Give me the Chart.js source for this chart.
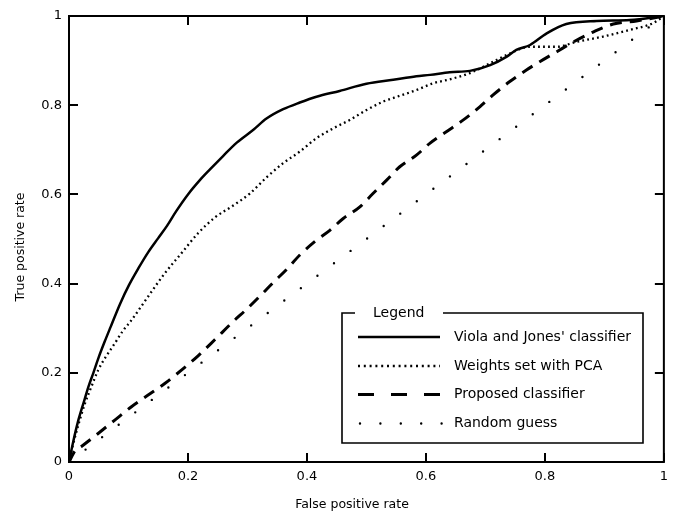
<!DOCTYPE html>
<html><head><meta charset="utf-8">
<script src="https://cdn.jsdelivr.net/npm/chart.js@4/dist/chart.umd.min.js"></script>
<style>html,body{margin:0;padding:0;background:#fff}canvas{display:block}</style>
</head><body>
<canvas id="c" width="675" height="512"></canvas>
<script>
// ---- data ----
const tickValues = [0, 0.2, 0.4, 0.6, 0.8, 1];
const xTitle = "False positive rate";
const yTitle = "True positive rate";
const legendTitle = "Legend";
const seriesNames = ["Viola and Jones' classifier", "Weights set with PCA", "Proposed classifier", "Random guess"];

const vjFpr = [0, 0.007, 0.015, 0.025, 0.033, 0.041, 0.05, 0.06, 0.07, 0.086, 0.101, 0.117, 0.133, 0.15, 0.165, 0.18, 0.2, 0.22, 0.237, 0.259, 0.282, 0.31, 0.332, 0.36, 0.388, 0.416, 0.455, 0.5, 0.545, 0.584, 0.607, 0.64, 0.674, 0.708, 0.736, 0.752, 0.775, 0.803, 0.836, 0.887, 0.943, 1];
const vjTpr  = [0, 0.045, 0.09, 0.135, 0.17, 0.2, 0.235, 0.27, 0.303, 0.355, 0.397, 0.435, 0.47, 0.502, 0.53, 0.562, 0.6, 0.632, 0.656, 0.686, 0.716, 0.745, 0.77, 0.791, 0.806, 0.819, 0.832, 0.848, 0.857, 0.865, 0.868, 0.874, 0.877, 0.89, 0.909, 0.924, 0.935, 0.961, 0.982, 0.989, 0.991, 1];

const pcaFpr = [0, 0.007, 0.015, 0.027, 0.038, 0.049, 0.062, 0.077, 0.09, 0.105, 0.133, 0.161, 0.189, 0.217, 0.245, 0.276, 0.304, 0.332, 0.36, 0.388, 0.416, 0.444, 0.472, 0.5, 0.528, 0.556, 0.584, 0.612, 0.64, 0.674, 0.708, 0.741, 0.775, 0.82, 0.853, 0.898, 0.943, 0.982, 1];
const pcaTpr = [0, 0.04, 0.08, 0.132, 0.17, 0.206, 0.236, 0.266, 0.293, 0.318, 0.371, 0.423, 0.468, 0.513, 0.548, 0.575, 0.602, 0.638, 0.67, 0.696, 0.726, 0.748, 0.767, 0.789, 0.808, 0.821, 0.834, 0.849, 0.858, 0.872, 0.894, 0.916, 0.931, 0.931, 0.942, 0.954, 0.969, 0.984, 1];

const propFpr = [0, 0.01, 0.022, 0.049, 0.077, 0.105, 0.133, 0.161, 0.189, 0.217, 0.245, 0.276, 0.299, 0.321, 0.343, 0.366, 0.388, 0.413, 0.439, 0.461, 0.489, 0.511, 0.534, 0.556, 0.584, 0.607, 0.635, 0.663, 0.691, 0.713, 0.741, 0.769, 0.792, 0.82, 0.848, 0.881, 0.915, 0.954, 1];
const propTpr = [0, 0.025, 0.036, 0.064, 0.094, 0.124, 0.15, 0.176, 0.206, 0.238, 0.274, 0.315, 0.343, 0.372, 0.402, 0.432, 0.464, 0.494, 0.52, 0.546, 0.572, 0.602, 0.632, 0.662, 0.688, 0.715, 0.741, 0.767, 0.797, 0.823, 0.853, 0.879, 0.898, 0.92, 0.942, 0.964, 0.982, 0.989, 1];

const randFpr = [0, 1];
const randTpr = [0, 1];

// ---- build ----
const pts = (xs, ys) => xs.map((v, i) => ({x: v, y: ys[i]}));
const FONT = '"DejaVu Sans", "Liberation Sans", sans-serif';

const styles = [
  {width: 2.5, dash: [], cap: 'butt', legendDash: []},
  {width: 2.3, dash: [1.8, 3.2], cap: 'butt', legendDash: [2, 3.8]},
  {width: 3, dash: [12, 8], cap: 'butt', legendDash: [16, 17]},
  {width: 2.4, dash: [0, 20.7], cap: 'round', legendDash: [0, 20.4]}
];
const seriesData = [pts(vjFpr, vjTpr), pts(pcaFpr, pcaTpr), pts(propFpr, propTpr), pts(randFpr, randTpr)];

const framePlugin = {
  id: 'frame',
  afterDraw(chart) {
    const {ctx, chartArea: {left, right, top, bottom}, scales: {x, y}} = chart;
    ctx.save();
    ctx.strokeStyle = '#000';
    ctx.lineWidth = 2;
    ctx.setLineDash([]);
    ctx.strokeRect(left, top, right - left, bottom - top);
    const L = 9;
    ctx.beginPath();
    tickValues.forEach(v => {
      const px = Math.round(x.getPixelForValue(v));
      ctx.moveTo(px, bottom); ctx.lineTo(px, bottom - L);
      ctx.moveTo(px, top); ctx.lineTo(px, top + L);
      const py = Math.round(y.getPixelForValue(v));
      ctx.moveTo(left, py); ctx.lineTo(left + L, py);
      ctx.moveTo(right, py); ctx.lineTo(right - L, py);
    });
    ctx.stroke();

    // axis titles
    ctx.fillStyle = '#000';
    ctx.font = '12.5px ' + FONT;
    ctx.textAlign = 'center';
    ctx.textBaseline = 'middle';
    ctx.fillText(xTitle, 352, 505);
    ctx.save();
    ctx.translate(21, 247);
    ctx.rotate(-Math.PI / 2);
    ctx.fillText(yTitle, 0, 0);
    ctx.restore();

    // legend box
    const bx0 = 342, bx1 = 643, by0 = 313, by1 = 443;
    ctx.fillStyle = '#fff';
    ctx.fillRect(bx0, by0, bx1 - bx0, by1 - by0);
    ctx.lineWidth = 1.6;
    ctx.beginPath();
    ctx.moveTo(355, by0); ctx.lineTo(bx0, by0); ctx.lineTo(bx0, by1);
    ctx.lineTo(bx1, by1); ctx.lineTo(bx1, by0); ctx.lineTo(443, by0);
    ctx.stroke();
    ctx.fillStyle = '#000';
    ctx.font = '14px ' + FONT;
    ctx.textAlign = 'left';
    ctx.fillText(legendTitle, 373, by0);
    const rows = [337, 366, 394.5, 423.5];
    seriesNames.forEach((name, i) => {
      const s = styles[i];
      ctx.save();
      ctx.lineWidth = s.width;
      ctx.lineCap = s.cap;
      ctx.setLineDash(s.legendDash);
      ctx.beginPath();
      if (i === 3) { ctx.moveTo(360, rows[i]); ctx.lineTo(443, rows[i]); }
      else { ctx.moveTo(358, rows[i]); ctx.lineTo(440, rows[i]); }
      ctx.stroke();
      ctx.restore();
      ctx.fillText(name, 454, rows[i]);
    });
    ctx.restore();
  }
};

const axisCommon = {
  type: 'linear', min: 0, max: 1,
  grid: {display: false, drawTicks: false},
  border: {display: false},
  afterBuildTicks: s => { s.ticks = tickValues.map(v => ({value: v})); },
  ticks: {padding: 7, color: '#000', font: {family: FONT, size: 13}, callback: v => String(v)}
};

new Chart(document.getElementById('c'), {
  type: 'line',
  data: {
    datasets: seriesData.map((d, i) => ({
      label: seriesNames[i],
      data: d,
      borderColor: '#000',
      borderWidth: styles[i].width,
      borderDash: styles[i].dash,
      borderCapStyle: styles[i].cap,
      borderJoinStyle: 'round',
      cubicInterpolationMode: 'monotone',
      pointRadius: 0,
      fill: false
    }))
  },
  options: {
    responsive: false,
    devicePixelRatio: 1,
    animation: false,
    layout: {padding: {left: 0, right: 11, top: 16, bottom: 0}},
    plugins: {legend: {display: false}, tooltip: {enabled: false}},
    scales: {
      x: Object.assign({}, axisCommon, {afterFit: s => { s.height = 50; }}),
      y: Object.assign({}, axisCommon, {afterFit: s => { s.width = 69; }})
    }
  },
  plugins: [framePlugin]
});
</script>
</body></html>
